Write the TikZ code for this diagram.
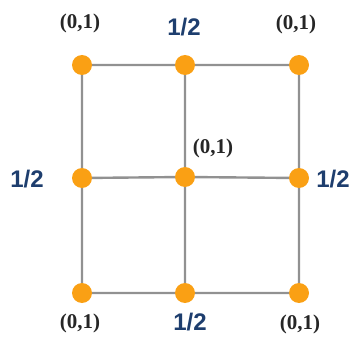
\documentclass[tikz,border=0pt]{standalone}
\usepackage{fontspec}
\usetikzlibrary{backgrounds}
\setmainfont{Liberation Serif}
\newfontfamily\lsans{Liberation Sans}
\definecolor{dotor}{RGB}{250,160,20}
\definecolor{navy}{RGB}{30,62,110}
\definecolor{gridg}{RGB}{145,145,145}
\begin{document}
\begin{tikzpicture}[x=1pt,y=-1pt,
  dot/.style={circle,fill=dotor,inner sep=0pt,minimum size=20pt},
  gl/.style={draw=gridg,line width=2.4pt},
  pl/.style={font=\fontsize{21}{21}\selectfont\bfseries,text=black!85,inner sep=0pt},
  hl/.style={font=\lsans\fontsize{24}{24}\selectfont\bfseries,text=navy,inner sep=0pt}]
\useasboundingbox (0,0) rectangle (351,337);
\node[dot] (a1) at (82,65) {};
\node[dot] (a2) at (185,65) {};
\node[dot] (a3) at (299,65) {};
\node[dot] (b1) at (82,178) {};
\node[dot] (b2) at (185,177) {};
\node[dot] (b3) at (299,178) {};
\node[dot] (c1) at (82,293) {};
\node[dot] (c2) at (185,293) {};
\node[dot] (c3) at (299,293) {};
\begin{scope}[on background layer]
\path[gl] (a1.center) -- (a2.center) -- (a3.center)
  (b1.center) -- (b2.center) -- (b3.center)
  (c1.center) -- (c2.center) -- (c3.center)
  (a1.center) -- (b1.center) -- (c1.center)
  (a2.center) -- (b2.center) -- (c2.center)
  (a3.center) -- (b3.center) -- (c3.center);
\end{scope}
\node[pl] (ta) at (80,23) {(0,1)};
\node[hl] (tb) at (184,27) {1/2};
\node[pl] (tc) at (296,24) {(0,1)};
\node[hl] (ml) at (27,179) {1/2};
\node[pl] (mm) at (213,148) {(0,1)};
\node[hl] (mr) at (333,179) {1/2};
\node[pl] (ba) at (80,323) {(0,1)};
\node[hl] (bb) at (190,322) {1/2};
\node[pl] (bc) at (300,324) {(0,1)};
\end{tikzpicture}
\end{document}
